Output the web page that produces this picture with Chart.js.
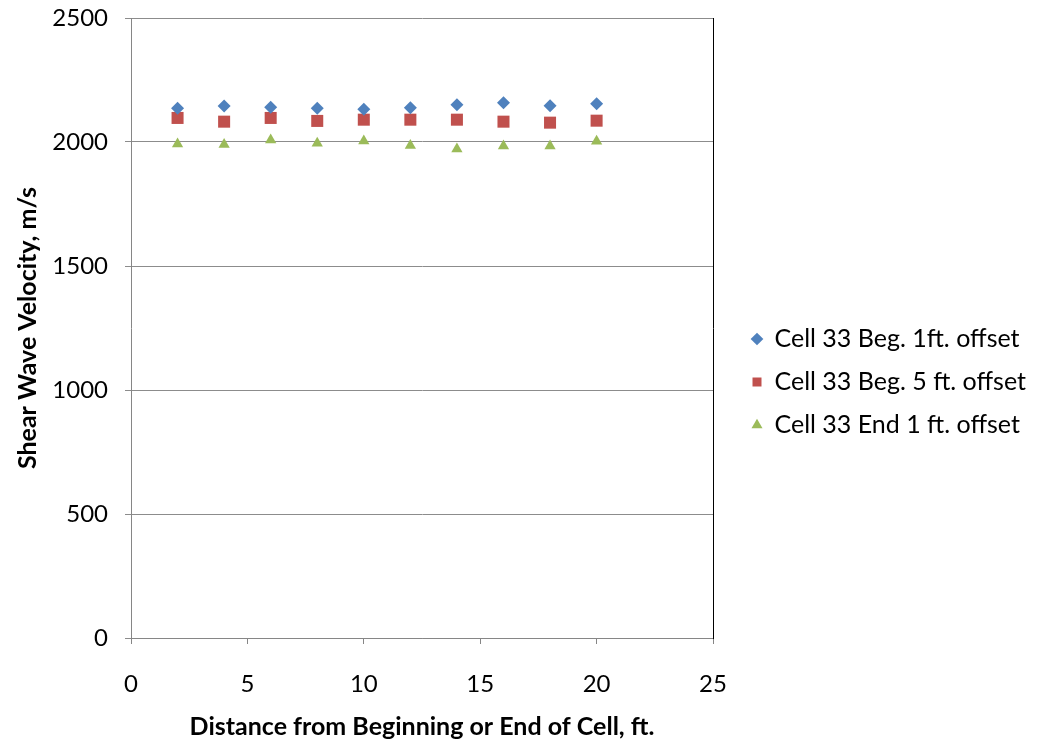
<!DOCTYPE html>
<html>
<head>
<meta charset="utf-8">
<title>Shear Wave Velocity - Cell 33</title>
<script src="https://cdn.jsdelivr.net/npm/chart.js@4/dist/chart.umd.min.js"></script>
<style>
    html, body { margin: 0; padding: 0; background: #fff; }
    #wrap { width: 1040px; height: 746px; position: relative; }
</style>
</head>
<body>
<div id="wrap"><canvas id="velocityChart"></canvas></div>
<script>
// Distance (ft.) of each measurement
const distances = [2, 4, 6, 8, 10, 12, 14, 16, 18, 20];

// Shear wave velocity, m/s
const beg1ftOffset = [2136, 2145, 2140, 2136, 2132, 2138, 2150, 2158, 2146, 2154];
const beg5ftOffset = [2097, 2082, 2097, 2085, 2090, 2090, 2090, 2082, 2078, 2086];
const end1ftOffset = [1992, 1990, 2008, 1995, 2004, 1986, 1972, 1984, 1984, 2003];

const seriesNames = ['Cell 33 Beg. 1ft. offset', 'Cell 33 Beg. 5 ft. offset', 'Cell 33 End 1 ft. offset'];

// Axis ticks
const xTicks = [0, 5, 10, 15, 20, 25];
const yTicks = [0, 500, 1000, 1500, 2000, 2500];

const FONT = 'Lato, "Liberation Sans", sans-serif';

function toPoints(values) {
    return distances.map((d, i) => ({ x: d, y: values[i] }));
}

// Keep the legend a fixed width so the plot area lines up
const legendWidthPlugin = {
    id: 'legendWidth',
    beforeLayout(chart) {
        const lg = chart.legend;
        if (lg && !lg._fixedWidth) {
            const fit = lg.fit;
            lg.fit = function() {
                fit.call(this);
                this.width = 306;
            };
            lg._fixedWidth = true;
        }
    }
};

new Chart(document.getElementById('velocityChart'), {
    type: 'scatter',
    data: {
        datasets: [{
            label: seriesNames[0],
            data: toPoints(beg1ftOffset),
            pointStyle: 'rectRot',
            pointRadius: 6.5,
            pointHoverRadius: 6.5,
            backgroundColor: '#4F81BD',
            borderColor: '#4F81BD',
            borderWidth: 0
        }, {
            label: seriesNames[1],
            data: toPoints(beg5ftOffset),
            pointStyle: 'rect',
            pointRadius: 8.5,
            pointHoverRadius: 8.5,
            backgroundColor: '#C0504D',
            borderColor: '#C0504D',
            borderWidth: 0
        }, {
            label: seriesNames[2],
            data: toPoints(end1ftOffset),
            pointStyle: 'triangle',
            pointRadius: 6.5,
            pointHoverRadius: 6.5,
            backgroundColor: '#9BBB59',
            borderColor: '#9BBB59',
            borderWidth: 0
        }]
    },
    options: {
        responsive: true,
        maintainAspectRatio: false,
        animation: false,
        layout: {
            padding: { top: 18, left: 0, right: 0, bottom: 0 }
        },
        plugins: {
            legend: {
                position: 'right',
                align: 'center',
                labels: {
                    usePointStyle: true,
                    boxWidth: 10,
                    boxHeight: 9,
                    padding: 18,
                    color: '#000',
                    font: { family: FONT, size: 25 }
                }
            },
            tooltip: { enabled: false }
        },
        scales: {
            x: {
                type: 'linear',
                min: 0,
                max: 25,
                afterFit(scale) { scale.height = 108; },
                afterBuildTicks(scale) { scale.ticks = xTicks.map(v => ({ value: v })); },
                grid: {
                    drawOnChartArea: false,
                    color: '#868686',
                    tickLength: 6
                },
                border: { color: '#868686', width: 1 },
                ticks: {
                    padding: 26,
                    color: '#000',
                    maxRotation: 0,
                    font: { family: FONT, size: 24 },
                    callback: value => String(value)
                },
                title: {
                    display: true,
                    text: 'Distance from Beginning or End of Cell, ft.',
                    color: '#000',
                    font: { family: FONT, size: 25, weight: 'bold' },
                    padding: { top: 0, bottom: 4 }
                }
            },
            y: {
                type: 'linear',
                min: 0,
                max: 2500,
                afterFit(scale) {
                    scale.width = 131;
                    scale.paddingTop = 0;
                    scale.paddingBottom = 0;
                },
                afterBuildTicks(scale) { scale.ticks = yTicks.map(v => ({ value: v })); },
                grid: {
                    color: '#8C8C8C',
                    tickLength: 6
                },
                border: { color: '#868686', width: 1 },
                ticks: {
                    padding: 17,
                    color: '#000',
                    font: { family: FONT, size: 24 },
                    callback: value => String(value)
                },
                title: {
                    display: true,
                    text: 'Shear Wave Velocity, m/s',
                    color: '#000',
                    font: { family: FONT, size: 25, weight: 'bold' },
                    padding: { top: 13, bottom: 0 }
                }
            },
            // spacer on the right: draws the plot's right border
            yRight: {
                type: 'linear',
                position: 'right',
                min: 0,
                max: 2500,
                afterFit(scale) {
                    scale.width = 21;
                    scale.paddingTop = 0;
                    scale.paddingBottom = 0;
                },
                grid: { drawOnChartArea: false, drawTicks: false },
                border: { color: '#000', width: 1 },
                ticks: { display: false }
            }
        }
    },
    plugins: [legendWidthPlugin]
});
</script>
</body>
</html>
